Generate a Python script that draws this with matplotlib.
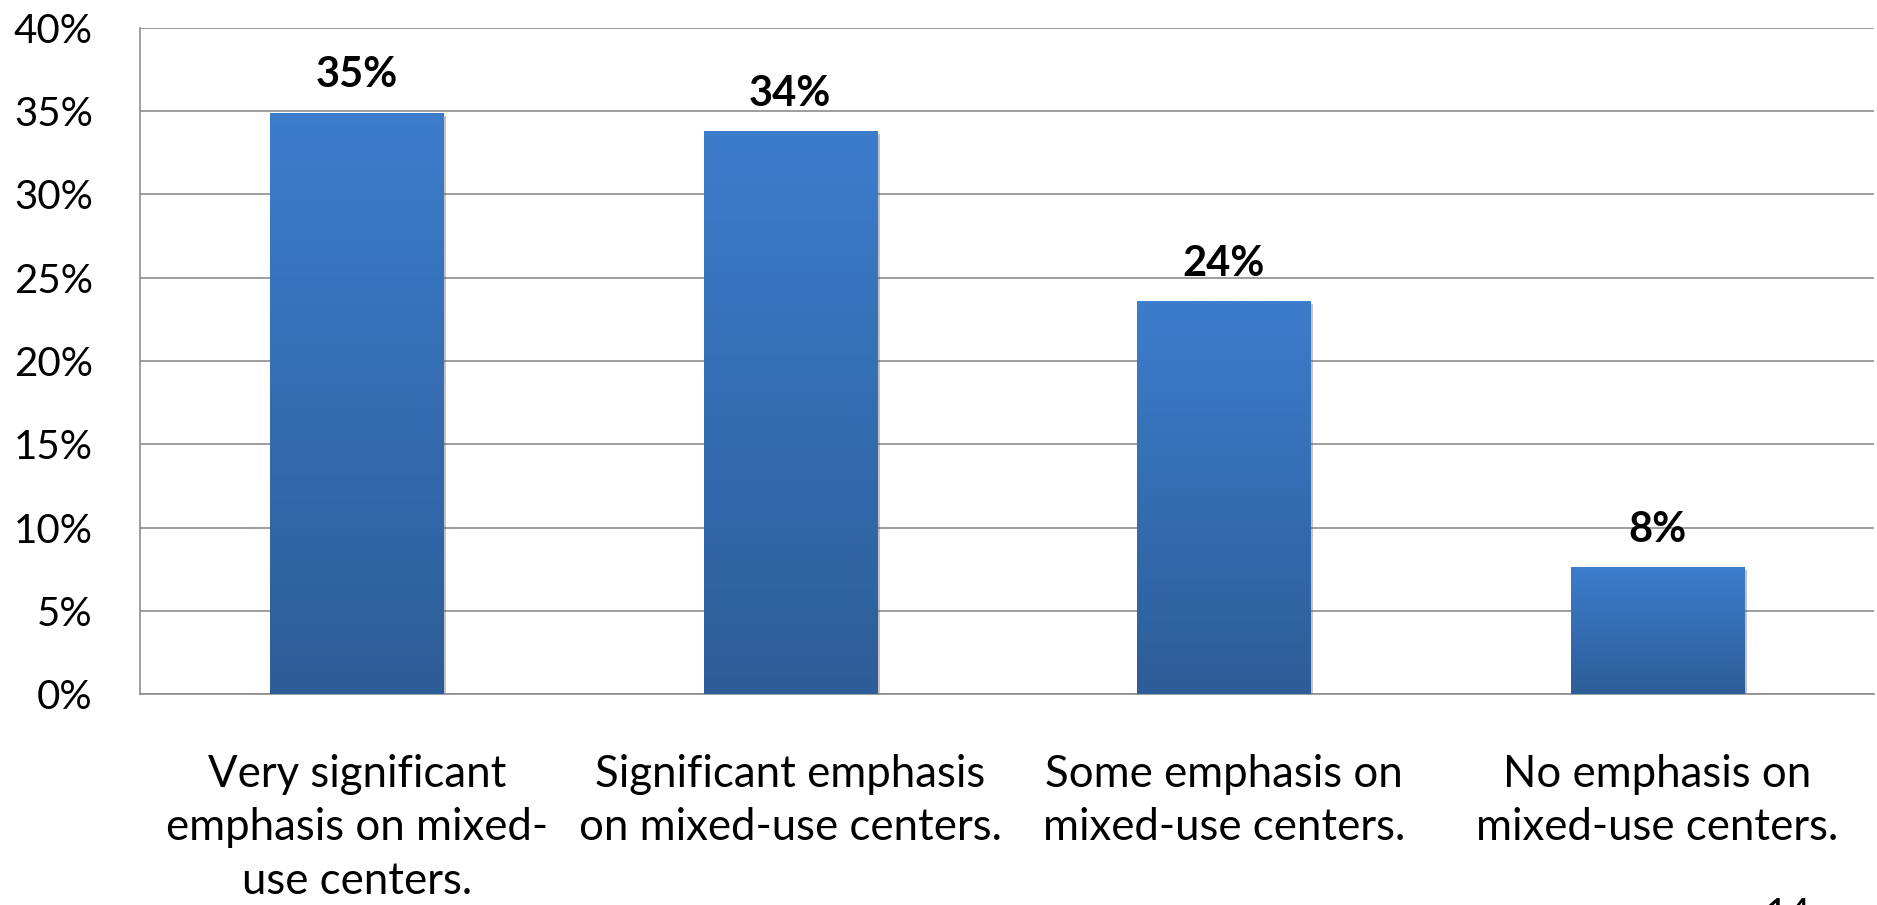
import numpy as np
import matplotlib
matplotlib.use('Agg')
import matplotlib.pyplot as plt
import matplotlib.patheffects as pe
from matplotlib.colors import LinearSegmentedColormap

# data
categories = ['Very significant\nemphasis on mixed-\nuse centers.',
              'Significant emphasis\non mixed-use centers.',
              'Some emphasis on\nmixed-use centers.',
              'No emphasis on\nmixed-use centers.']
values = [34.9, 33.8, 23.6, 7.6]
labels = ['35%', '34%', '24%', '8%']
yticks = [0, 5, 10, 15, 20, 25, 30, 35, 40]

plt.rcParams['font.family'] = ['Lato', 'DejaVu Sans']

fig = plt.figure(figsize=(18.77, 9.05), dpi=100)
ax = fig.add_axes([0.0746, 0.2331, 0.9238, 0.736])

grad = LinearSegmentedColormap.from_list('g', ['#2d5d98', '#3c7dcc'])
x = np.arange(len(categories))
bars = ax.bar(x, values, width=0.40, color='#3571b8', zorder=2,
              path_effects=[pe.SimplePatchShadow(offset=(2, -2), alpha=0.35, shadow_rgbFace='#555555'),
                            pe.Normal()])
for b in bars:
    x0, y0, w, h = b.get_x(), b.get_y(), b.get_width(), b.get_height()
    img = ax.imshow(np.linspace(0, 1, 256).reshape(-1, 1), cmap=grad, origin='lower',
                    extent=[x0, x0 + w, y0, y0 + h], aspect='auto', zorder=3)
    img.set_clip_path(b)

for xi, v, lab in zip(x, values, labels):
    ax.annotate(lab, (xi, v), xytext=(0, 27), textcoords='offset points',
                ha='center', va='center', fontsize=30, fontweight='bold', zorder=4)

ax.set_xlim(-0.5, 3.5)
ax.set_ylim(0, 40)
ax.set_yticks(yticks)
ax.set_yticklabels([f'{t}%' for t in yticks], fontsize=29)
ax.set_xticks(x)
ax.set_xticklabels(categories, fontsize=31.5, linespacing=1.38)
ax.tick_params(axis='both', length=0)
ax.tick_params(axis='y', pad=34)
ax.tick_params(axis='x', pad=43)
ax.grid(axis='y', color='#8c8c8c', linewidth=1.2, zorder=1)
ax.set_axisbelow(True)
for s in ['top', 'right']:
    ax.spines[s].set_visible(False)
for s in ['left', 'bottom']:
    ax.spines[s].set_color('#8c8c8c')
    ax.spines[s].set_linewidth(1.2)

# page number, cut off at the bottom edge
fig.text(0.9525, 0.009, '14', fontsize=29, ha='center', va='top')

fig.savefig('out.png', dpi=100)
